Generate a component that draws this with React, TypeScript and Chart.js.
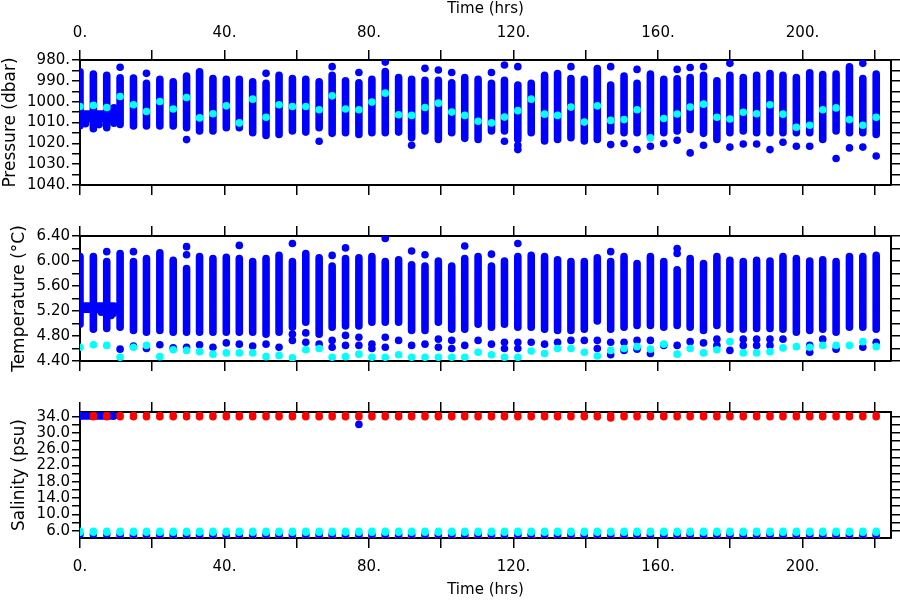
import React, { useEffect, useRef } from 'react';
import { Chart, registerables } from 'chart.js';

Chart.register(...registerables);

const FONT = 'DejaVu Sans';
const BLUE = '#0000ff';
const CYAN = '#00ffff';
const RED = '#ff0000';
const MAGENTA = '#ff00ff';
const T_MAX = 224.5;
const R = 3.8;

// ---- profile times (hrs) ----
const profileTimes = [
  11.1, 14.8, 18.4, 22.1, 25.8, 29.5, 33.1, 36.8, 40.5, 44.1,
  47.8, 51.5, 55.1, 58.8, 62.5, 66.2, 69.8, 73.5, 77.2, 80.8,
  84.5, 88.2, 91.8, 95.5, 99.2, 102.9, 106.5, 110.2, 113.9, 117.5,
  121.2, 124.9, 128.6, 132.2, 135.9, 139.6, 143.2, 146.9, 150.6, 154.2,
  157.9, 161.6, 165.3, 168.9, 172.6, 176.3, 179.9, 183.6, 187.3, 191.0,
  194.6, 198.3, 202.0, 205.6, 209.3, 213.0, 216.7, 220.4,
];
const earlyTimes = [0.0, 3.7, 7.4];

// ---- pressure (dbar) ----
const presTop = [
  988.5, 988.7, 991.2, 989.3, 990.5, 987.7, 985.7, 988.9, 989.3, 989.3,
  990.5, 991.2, 987.3, 988.9, 989.3, 990.5, 987.3, 990.0, 990.9, 989.3,
  985.5, 988.4, 989.3, 989.7, 989.7, 990.9, 988.4, 989.3, 991.2, 989.7,
  992.0, 991.2, 987.3, 986.5, 988.9, 989.3, 984.1, 992.0, 987.7, 991.2,
  986.8, 989.3, 989.0, 988.4, 987.3, 990.0, 987.3, 988.4, 987.3, 986.5,
  987.3, 988.4, 986.2, 987.0, 986.8, 983.3, 988.9, 986.8,
];
const presBottom = [
  1010.9, 1011.7, 1011.7, 1011.7, 1011.7, 1012.5, 1014.1, 1014.1, 1012.5, 1012.5,
  1014.9, 1016.2, 1015.7, 1014.1, 1014.6, 1012.5, 1015.2, 1014.9, 1015.7, 1014.9,
  1014.9, 1014.6, 1017.3, 1014.1, 1018.1, 1014.9, 1017.6, 1018.1, 1014.1, 1014.1,
  1018.1, 1014.9, 1018.9, 1018.1, 1017.3, 1018.9, 1018.1, 1014.1, 1014.9, 1014.9,
  1016.5, 1014.9, 1014.1, 1013.3, 1015.2, 1018.1, 1014.9, 1014.1, 1014.9, 1014.9,
  1014.9, 1014.9, 1014.9, 1018.1, 1014.1, 1014.9, 1014.9, 1015.7,
];
const presCyan = [
  997.5, 1001.5, 1004.7, 999.9, 1003.5, 998.0, 1007.8, 1005.8, 1002.0, 1010.2,
  998.8, 1007.5, 1001.5, 1002.3, 1002.3, 1003.9, 997.2, 1003.5, 1003.9, 1000.2,
  995.9, 1006.3, 1006.6, 1002.8, 1000.7, 1005.0, 1006.6, 1009.4, 1010.2, 1007.4,
  1004.3, 998.8, 1006.0, 1006.6, 1002.6, 1009.8, 1002.0, 1009.0, 1008.6, 1003.9,
  1017.4, 1008.1, 1005.9, 1002.6, 1001.2, 1007.5, 1008.3, 1005.1, 1005.8, 1001.5,
  1006.0, 1012.3, 1011.3, 1003.9, 1003.0, 1008.6, 1011.3, 1007.5,
];
const presExtra = [
  [11.1, 983.5], [18.4, 986.4], [29.5, 1018.2], [51.5, 986.4], [66.2, 1019.0],
  [69.8, 983.2], [77.2, 986.0], [84.5, 981.0], [91.8, 1020.9], [95.5, 984.0],
  [99.2, 984.8], [102.9, 986.0], [113.9, 986.0], [117.5, 982.4], [117.5, 1019.0],
  [121.2, 983.2], [121.2, 1021.0], [121.2, 1023.0], [135.9, 983.2], [146.9, 983.2],
  [146.9, 1020.6], [150.6, 1020.1], [154.2, 984.5], [154.2, 1023.0], [157.9, 1021.4],
  [161.6, 1020.1], [165.3, 984.5], [165.3, 1018.5], [168.9, 983.6], [168.9, 1024.6],
  [172.6, 983.2], [172.6, 1020.9], [179.9, 981.6], [179.9, 1021.8], [183.6, 1020.3],
  [187.3, 1020.3], [191.0, 1023.0], [194.6, 1019.5], [198.3, 1021.4], [202.0, 1021.4],
  [209.3, 1027.3], [213.0, 1022.2], [216.7, 981.6], [216.7, 1021.8], [220.4, 1026.1],
  [1.5, 1010.6], [5.3, 1011.0], [9.4, 1003.0], [9.4, 1010.3],
];
const earlyPresTop = [985.7, 986.8, 987.3];
const earlyPresBottom = [1011.5, 1013.0, 1012.5];
const earlyPresCyan = [1002.3, 1001.8, 1002.8];
const presBand = [[0.0, 9.4, 1006.0], [0.0, 9.4, 1008.2]];

// ---- temperature (degC) ----
const tempTop = [
  6.12, 5.99, 6.04, 6.13, 6.01, 5.88, 6.07, 6.04, 6.06, 6.04,
  5.99, 6.04, 6.09, 5.99, 6.12, 6.05, 5.92, 6.04, 6.05, 6.07,
  5.99, 6.02, 5.94, 5.92, 6.00, 5.92, 6.04, 6.07, 5.92, 6.00,
  6.07, 6.09, 6.07, 6.02, 5.99, 5.99, 6.05, 5.99, 6.07, 5.96,
  6.07, 5.99, 5.86, 6.04, 5.96, 6.07, 6.01, 5.99, 6.01, 6.00,
  6.07, 6.04, 6.00, 6.02, 5.99, 6.07, 6.07, 6.09,
];
const tempBottom = [
  4.94, 4.89, 4.86, 4.89, 4.86, 4.86, 4.86, 4.86, 4.86, 4.86,
  4.86, 4.83, 4.86, 4.94, 5.02, 4.83, 4.94, 4.96, 4.96, 5.02,
  5.02, 5.02, 4.89, 4.89, 5.02, 4.91, 4.91, 4.99, 4.94, 4.99,
  4.94, 4.94, 4.91, 4.89, 4.89, 4.91, 5.04, 4.91, 4.94, 4.97,
  4.97, 4.94, 4.97, 4.94, 4.89, 4.97, 4.91, 4.91, 4.92, 4.92,
  4.91, 4.86, 4.89, 4.91, 4.86, 4.94, 4.94, 4.91,
];
const tempCyan = [
  4.46, 4.62, 4.65, 4.47, 4.58, 4.57, 4.55, 4.51, 4.53, 4.53,
  4.53, 4.47, 4.49, 4.45, 4.58, 4.60, 4.46, 4.47, 4.51, 4.46,
  4.46, 4.50, 4.46, 4.46, 4.46, 4.46, 4.46, 4.54, 4.50, 4.46,
  4.46, 4.56, 4.52, 4.60, 4.60, 4.54, 4.48, 4.57, 4.60, 4.63,
  4.59, 4.67, 4.51, 4.60, 4.53, 4.58, 4.71, 4.53, 4.53, 4.55,
  4.61, 4.63, 4.62, 4.65, 4.65, 4.65, 4.71, 4.63,
];
const tempExtra = [
  [11.1, 4.59], [14.8, 6.15], [14.8, 4.64], [18.4, 4.60], [22.1, 4.66], [25.8, 4.61],
  [29.5, 6.23], [29.5, 6.10], [29.5, 4.62], [33.1, 4.66], [36.8, 4.62], [40.5, 4.69],
  [44.1, 6.25], [44.1, 4.67], [47.8, 4.64], [51.5, 4.67], [55.1, 4.62],
  [58.8, 6.28], [58.8, 4.83], [58.8, 4.73], [62.5, 4.85], [62.5, 4.70], [66.2, 4.67],
  [69.8, 6.09], [69.8, 4.73], [69.8, 4.62], [73.5, 6.21], [73.5, 4.81], [73.5, 4.65],
  [77.2, 4.78], [77.2, 4.65], [80.8, 4.67], [80.8, 4.60], [84.5, 6.36], [84.5, 4.78],
  [84.5, 4.62], [88.2, 4.73], [91.8, 6.16], [91.8, 4.65], [95.5, 6.10], [95.5, 4.67],
  [99.2, 4.75], [99.2, 4.62], [102.9, 4.73], [102.9, 4.60], [106.5, 6.24], [106.5, 4.65],
  [110.2, 4.73], [113.9, 6.11], [113.9, 4.67], [117.5, 4.70], [117.5, 4.60],
  [121.2, 6.28], [121.2, 4.70], [121.2, 4.60], [124.9, 4.70], [128.6, 4.67], [132.2, 4.70],
  [135.9, 4.73], [139.6, 4.73], [143.2, 4.73], [143.2, 4.60], [146.9, 6.15], [146.9, 4.70],
  [146.9, 4.50], [150.6, 4.70], [150.6, 4.57], [154.2, 4.73], [154.2, 4.59], [157.9, 4.73],
  [157.9, 4.52], [161.6, 4.65], [165.3, 6.20], [165.3, 6.12], [165.3, 4.65], [168.9, 4.71],
  [172.6, 4.69], [176.3, 4.75], [176.3, 4.65], [179.9, 4.57], [183.6, 4.75], [183.6, 4.65],
  [187.3, 4.75], [187.3, 4.65], [191.0, 4.75], [191.0, 4.65], [194.6, 4.75], [202.0, 4.65],
  [202.0, 4.54], [205.6, 4.75], [209.3, 4.59], [216.7, 4.62], [220.4, 4.70],
  [7.4, 6.15], [5.9, 5.18], [8.6, 5.13], [9.2, 5.16],
];
const earlyTempTop = [6.07, 6.07, 5.99];
const earlyTempBottom = [4.99, 4.91, 4.92];
const earlyTempCyan = [4.62, 4.66, 4.65];
const tempBand = [[0.0, 9.4, 5.23], [0.0, 9.4, 5.28]];

// ---- salinity (psu) ----
const salRedHigh = [
  34.3, 34.3, 34.3, 34.3, 34.3, 34.3, 34.3, 34.3, 34.3, 34.3,
  34.3, 34.3, 34.3, 34.3, 34.3, 34.3, 34.3, 34.3, 34.3, 34.3,
  34.3, 34.3, 34.3, 34.3, 34.3, 34.3, 34.3, 34.3, 34.3, 34.3,
  34.3, 34.3, 34.3, 34.3, 34.3, 34.3, 34.3, 34.3, 34.3, 34.3,
  34.3, 34.3, 34.3, 34.3, 34.3, 34.3, 34.3, 34.3, 34.3, 34.3,
  34.3, 34.3, 34.3, 34.3, 34.3, 34.3, 34.3, 34.3,
];
const salRedLow = [
  34.0, 34.0, 34.0, 34.0, 34.0, 34.0, 34.0, 34.0, 34.0, 34.0,
  34.0, 34.0, 34.0, 34.0, 34.0, 34.0, 34.0, 34.0, 34.0, 34.0,
  34.0, 34.0, 34.0, 34.0, 34.0, 34.0, 34.0, 34.0, 34.0, 34.0,
  34.0, 34.0, 34.0, 34.0, 34.0, 34.0, 34.0, 33.7, 34.0, 34.0,
  34.0, 34.0, 34.0, 34.0, 34.0, 34.0, 34.0, 34.0, 34.0, 34.0,
  34.0, 34.0, 34.0, 34.0, 34.0, 34.0, 34.0, 34.0,
];
const salCyanHigh = [
  5.87, 5.87, 5.87, 5.87, 5.87, 5.87, 5.87, 5.87, 5.87, 5.87,
  5.87, 5.87, 5.87, 5.87, 5.87, 5.87, 5.87, 5.87, 5.87, 5.87,
  5.87, 5.87, 5.87, 5.87, 5.87, 5.87, 5.87, 5.87, 5.87, 5.87,
  5.87, 5.87, 5.87, 5.87, 5.87, 5.87, 5.87, 5.87, 5.87, 5.87,
  5.87, 5.87, 5.87, 5.87, 5.87, 5.87, 5.87, 5.87, 5.87, 5.87,
  5.87, 5.87, 5.87, 5.87, 5.87, 5.87, 5.87, 5.87,
];
const salCyanLow = [
  5.63, 5.63, 5.63, 5.63, 5.63, 5.63, 5.63, 5.63, 5.63, 5.63,
  5.63, 5.63, 5.63, 5.63, 5.63, 5.63, 5.63, 5.63, 5.63, 5.63,
  5.63, 5.63, 5.63, 5.63, 5.63, 5.63, 5.63, 5.63, 5.63, 5.63,
  5.63, 5.63, 5.63, 5.63, 5.63, 5.63, 5.63, 5.63, 5.63, 5.63,
  5.63, 5.63, 5.63, 5.63, 5.63, 5.63, 5.63, 5.63, 5.63, 5.63,
  5.63, 5.63, 5.63, 5.63, 5.63, 5.63, 5.63, 5.63,
];
const salBlueLow = [
  5.07, 5.07, 5.07, 5.07, 5.07, 5.07, 5.07, 5.07, 5.07, 5.07,
  5.07, 5.07, 5.07, 5.07, 5.07, 5.07, 5.07, 5.07, 5.07, 5.07,
  5.07, 5.07, 5.07, 5.07, 5.07, 5.07, 5.07, 5.07, 5.07, 5.07,
  5.07, 5.07, 5.07, 5.07, 5.07, 5.07, 5.07, 5.07, 5.07, 5.07,
  5.07, 5.07, 5.07, 5.07, 5.07, 5.07, 5.07, 5.07, 5.07, 5.07,
  5.07, 5.07, 5.07, 5.07, 5.07, 5.07, 5.07, 5.07,
];
const salMagenta = [
  4.75, 4.75, 4.75, 4.75, 4.75, 4.75, 4.75, 4.75, 4.75, 4.75,
  4.75, 4.75, 4.75, 4.75, 4.75, 4.75, 4.75, 4.75, 4.75, 4.75,
  4.75, 4.75, 4.75, 4.75, 4.75, 4.75, 4.75, 4.75, 4.75, 4.75,
  4.75, 4.75, 4.75, 4.75, 4.75, 4.75, 4.75, 4.75, 4.75, 4.75,
  4.75, 4.75, 4.75, 4.75, 4.75, 4.75, 4.75, 4.75, 4.75, 4.75,
  4.75, 4.75, 4.75, 4.75, 4.75, 4.75, 4.75, 4.75,
];
const earlySalRedTimes = [3.7, 7.4];
const earlySalRedHigh = [34.3, 34.3];
const earlySalRedLow = [34.0, 34.0];
const earlySalCyanHigh = [5.87, 5.87, 5.87];
const earlySalCyanLow = [5.63, 5.63, 5.63];
const earlySalBlueLow = [5.07, 5.07, 5.07];
const salBand = [[0.0, 9.3, 34.15]];
const salBlueExtra = [[77.2, 32.1], [0.0, 34.15], [9.3, 34.15]];

// ---- helpers ----
type Pt = { x: number; y: number | null };

function columnPoints(times: number[], highs: number[], lows: number[]): Pt[] {
  const out: Pt[] = [];
  times.forEach((t, i) => {
    out.push({ x: t, y: highs[i] }, { x: t, y: lows[i] }, { x: t, y: null });
  });
  return out;
}
function bandPoints(bands: number[][]): Pt[] {
  const out: Pt[] = [];
  bands.forEach(([t0, t1, v]) => {
    out.push({ x: t0, y: v }, { x: t1, y: v }, { x: t1, y: null });
  });
  return out;
}
function dotPoints(times: number[], vals: number[]): Pt[] {
  return times.map((t, i) => ({ x: t, y: vals[i] }));
}
function pairPoints(pairs: number[][]): Pt[] {
  return pairs.map(([t, v]) => ({ x: t, y: v }));
}
function strokeSet(data: Pt[], color: string) {
  return {
    data,
    borderColor: color,
    backgroundColor: color,
    borderWidth: 2 * R,
    borderCapStyle: 'round',
    borderJoinStyle: 'round',
    pointRadius: 0,
    pointHoverRadius: 0,
    showLine: true,
    spanGaps: false,
    fill: false,
    tension: 0,
  };
}
function dotSet(data: Pt[], color: string) {
  return {
    data,
    showLine: false,
    pointRadius: R,
    pointHoverRadius: R,
    pointBorderWidth: 0,
    pointBackgroundColor: color,
    pointBorderColor: color,
    borderColor: color,
    backgroundColor: color,
  };
}

type XOpts = { labels: boolean; height: number; pad: number; title: boolean; titlePad: any };
function xScale(position: string, o: XOpts) {
  return {
    type: 'linear',
    axis: 'x',
    position,
    min: 0,
    max: T_MAX,
    afterFit: (s: any) => {
      s.height = o.height;
    },
    grid: { drawOnChartArea: false, drawTicks: true, tickLength: 10, lineWidth: 1.5, color: '#000' },
    border: { display: true, color: '#000', width: 2 },
    ticks: {
      stepSize: 20,
      includeBounds: false,
      autoSkip: false,
      maxRotation: 0,
      minRotation: 0,
      padding: o.pad,
      color: '#000',
      font: { family: FONT, size: 15 },
      callback: (v: any) => (o.labels && Math.round(v) % 40 === 0 ? `${Math.round(v)}.` : ''),
    },
    title: {
      display: o.title,
      text: 'Time (hrs)',
      color: '#000',
      font: { family: FONT, size: 15 },
      padding: o.titlePad,
    },
  };
}

type YOpts = {
  min: number;
  max: number;
  step: number;
  reverse: boolean;
  label: (v: number) => string;
  title: string;
  titlePad: number;
};
function yScales(o: YOpts) {
  const base = {
    type: 'linear',
    axis: 'y',
    min: o.min,
    max: o.max,
    reverse: o.reverse,
    border: { display: true, color: '#000', width: 2 },
  };
  const tickBase = {
    stepSize: o.step,
    includeBounds: false,
    autoSkip: false,
    color: '#000',
    font: { family: FONT, size: 15 },
  };
  return {
    y: {
      ...base,
      position: 'left',
      afterFit: (s: any) => {
        s.width = 80;
      },
      grid: { drawOnChartArea: false, drawTicks: true, tickLength: 8, lineWidth: 1.5, color: '#000' },
      ticks: { ...tickBase, padding: 2, callback: (v: any) => o.label(Number(v)) },
      title: {
        display: true,
        text: o.title,
        color: '#000',
        font: { family: FONT, size: 17 },
        padding: { top: o.titlePad, bottom: 0 },
      },
    },
    yRight: {
      ...base,
      position: 'right',
      afterFit: (s: any) => {
        s.width = 9;
      },
      grid: { drawOnChartArea: false, drawTicks: true, tickLength: 9, lineWidth: 1.5, color: '#000' },
      ticks: { ...tickBase, padding: 0, callback: () => '' },
      title: { display: false },
    },
  };
}

function makeConfig(datasets: any[], scales: any) {
  return {
    type: 'line',
    data: { datasets },
    options: {
      animation: false,
      responsive: false,
      events: [],
      layout: { padding: 0 },
      plugins: { legend: { display: false }, tooltip: { enabled: false } },
      scales,
    },
  } as any;
}

function pressureConfig() {
  const datasets = [
    dotSet([...dotPoints(profileTimes, presCyan), ...dotPoints(earlyTimes, earlyPresCyan)], CYAN),
    dotSet(pairPoints(presExtra), BLUE),
    strokeSet(
      [
        ...columnPoints(profileTimes, presTop, presBottom),
        ...columnPoints(earlyTimes, earlyPresTop, earlyPresBottom),
        ...bandPoints(presBand),
      ],
      BLUE
    ),
  ];
  const scales = {
    x: xScale('bottom', { labels: false, height: 10, pad: 0, title: false, titlePad: 0 }),
    xTop: xScale('top', { labels: true, height: 60, pad: 8, title: true, titlePad: { top: 0, bottom: 0 } }),
    ...yScales({
      min: 980,
      max: 1040,
      step: 5,
      reverse: true,
      label: (v) => (Math.round(v) % 10 === 0 ? `${Math.round(v)}.` : ''),
      title: 'Pressure (dbar)',
      titlePad: 0,
    }),
  };
  return makeConfig(datasets, scales);
}

function temperatureConfig() {
  const datasets = [
    dotSet([...dotPoints(profileTimes, tempCyan), ...dotPoints(earlyTimes, earlyTempCyan)], CYAN),
    dotSet(pairPoints(tempExtra), BLUE),
    strokeSet(
      [
        ...columnPoints(profileTimes, tempTop, tempBottom),
        ...columnPoints(earlyTimes, earlyTempTop, earlyTempBottom),
        ...bandPoints(tempBand),
      ],
      BLUE
    ),
  ];
  const scales = {
    x: xScale('bottom', { labels: false, height: 10, pad: 0, title: false, titlePad: 0 }),
    xTop: xScale('top', { labels: false, height: 40, pad: 0, title: false, titlePad: 0 }),
    ...yScales({
      min: 4.4,
      max: 6.4,
      step: 0.2,
      reverse: false,
      label: (v) => (Math.round(v * 100) % 40 === 0 ? v.toFixed(2) : ''),
      title: 'Temperature (°C)',
      titlePad: 9,
    }),
  };
  return makeConfig(datasets, scales);
}

function salinityConfig() {
  const datasets = [
    strokeSet(
      [
        ...columnPoints(profileTimes, salCyanHigh, salCyanLow),
        ...columnPoints(earlyTimes, earlySalCyanHigh, earlySalCyanLow),
      ],
      CYAN
    ),
    strokeSet(
      [
        ...columnPoints(profileTimes, salRedHigh, salRedLow),
        ...columnPoints(earlySalRedTimes, earlySalRedHigh, earlySalRedLow),
      ],
      RED
    ),
    dotSet(pairPoints(salBlueExtra), BLUE),
    strokeSet(bandPoints(salBand), BLUE),
    dotSet([...dotPoints(profileTimes, salBlueLow), ...dotPoints(earlyTimes, earlySalBlueLow)], BLUE),
    dotSet(dotPoints(profileTimes, salMagenta), MAGENTA),
  ];
  const scales = {
    x: xScale('bottom', { labels: true, height: 62, pad: 10, title: true, titlePad: { top: 0, bottom: 1 } }),
    xTop: xScale('top', { labels: false, height: 40, pad: 0, title: false, titlePad: 0 }),
    ...yScales({
      min: 4.2,
      max: 35.15,
      step: 2,
      reverse: false,
      label: (v) => ((Math.round(v) - 6) % 4 === 0 ? v.toFixed(1) : ''),
      title: 'Salinity (psu)',
      titlePad: 9,
    }),
  };
  return makeConfig(datasets, scales);
}

function Panel({ top, height, build }: { top: number; height: number; build: () => any }) {
  const ref = useRef<HTMLCanvasElement | null>(null);
  useEffect(() => {
    if (!ref.current) return;
    const chart = new Chart(ref.current, build());
    return () => chart.destroy();
  }, []);
  return (
    <canvas
      ref={ref}
      width={900}
      height={height}
      style={{ position: 'absolute', left: 0, top, width: 900, height, display: 'block' }}
    />
  );
}

export default function App() {
  return (
    <div
      style={{
        position: 'fixed',
        left: 0,
        top: 0,
        width: 900,
        height: 600,
        background: '#ffffff',
        overflow: 'hidden',
      }}
    >
      <Panel top={0} height={196} build={pressureConfig} />
      <Panel top={196} height={176} build={temperatureConfig} />
      <Panel top={372} height={228} build={salinityConfig} />
    </div>
  );
}
